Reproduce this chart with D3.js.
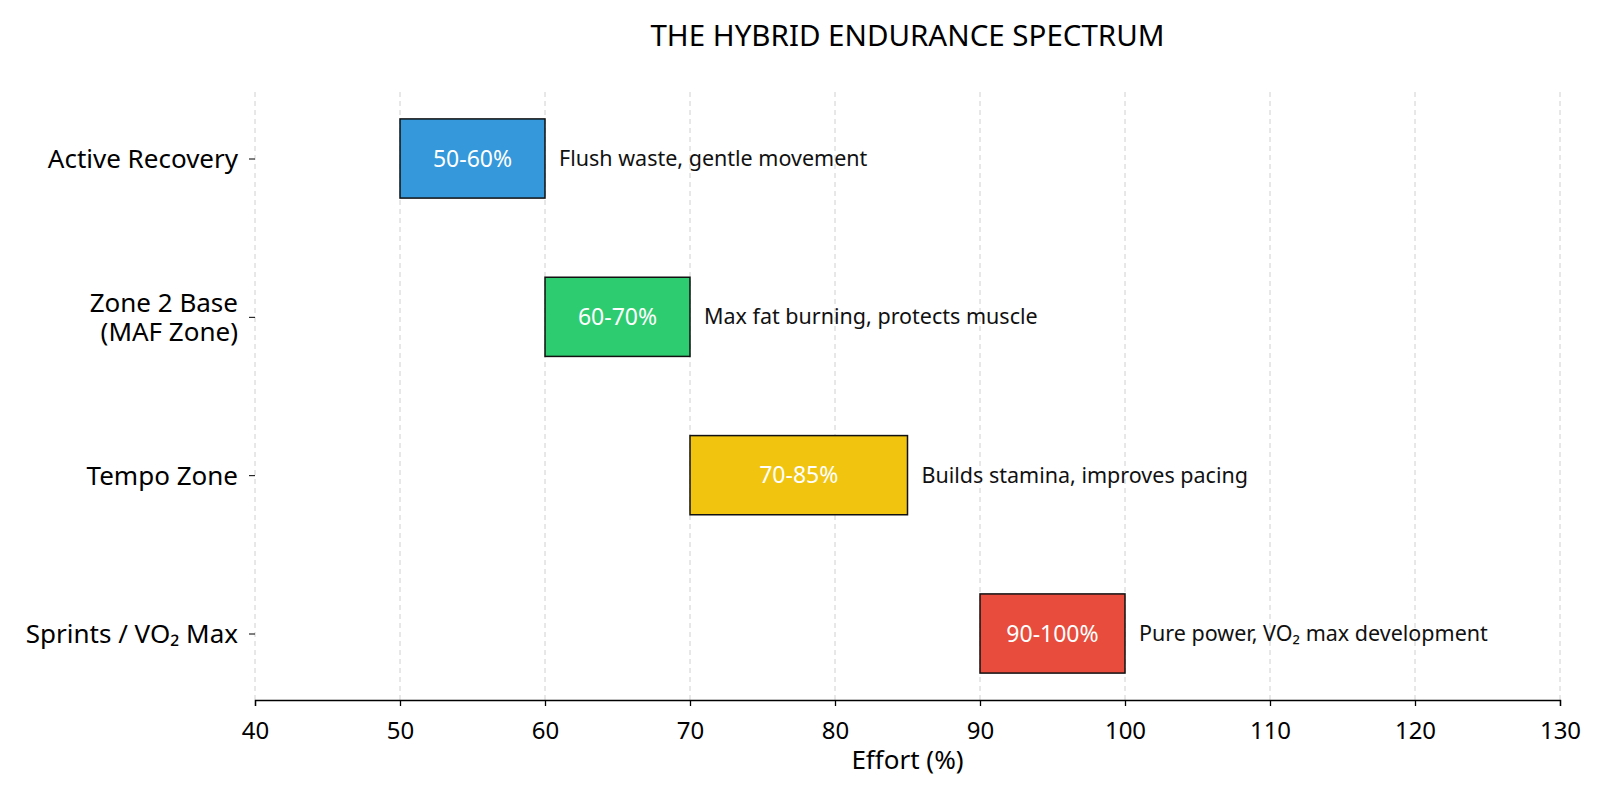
<!DOCTYPE html>
<html>
<head>
<meta charset="utf-8">
<script src="https://cdn.jsdelivr.net/npm/d3@7"></script>
<style>
  body { margin: 0; background: #fff; }
  text { font-family: "Noto Sans", "Open Sans", sans-serif; }
</style>
</head>
<body>
<div id="chart"></div>
<script>
// zones, top to bottom
var zones = ["Active Recovery", "Zone 2 Base\n(MAF Zone)", "Tempo Zone", "Sprints / VO₂ Max"]
var starts = [50, 60, 70, 90]
var ends = [60, 70, 85, 100]
var rangeLabels = ["50-60%", "60-70%", "70-85%", "90-100%"]
var notes = ["Flush waste, gentle movement", "Max fat burning, protects muscle",
             "Builds stamina, improves pacing", "Pure power, VO₂ max development"]
var colors = ["#3498db", "#2ecc71", "#f1c40f", "#e74c3c"]
var xTicks = [40, 50, 60, 70, 80, 90, 100, 110, 120, 130]

var width = 1600
var height = 800
var margin = {top: 92, right: 40, bottom: 100, left: 255}

var svg = d3.select("#chart")
    .append("svg")
    .attr("width", width)
    .attr("height", height)

var plotW = width - margin.left - margin.right
var plotH = height - margin.top - margin.bottom

var g = svg.append("g")
    .attr("transform", "translate(" + margin.left + "," + margin.top + ")")

var xScale = d3.scaleLinear()
    .domain([40, 130])
    .range([0, plotW])

var yScale = d3.scalePoint()
    .domain(zones)
    .range([0, plotH])
    .padding(0.42)

var barH = yScale.step() * 0.5

// dashed grid lines
g.append("g").attr("class", "grid")
  .selectAll("line")
  .data(xTicks)
  .enter()
  .append("line")
    .attr("x1", function(d) { return xScale(d) })
    .attr("x2", function(d) { return xScale(d) })
    .attr("y1", 0)
    .attr("y2", plotH)
    .attr("stroke", "#d0d0d0")
    .attr("stroke-width", 1)
    .attr("stroke-dasharray", "5,4")

// x axis
var xAxis = g.append("g")
    .attr("transform", "translate(0," + plotH + ")")
    .call(d3.axisBottom(xScale).tickValues(xTicks).tickSize(6).tickPadding(16))
xAxis.select(".domain").attr("stroke", "#000").attr("stroke-width", 1.3)
xAxis.selectAll(".tick line").attr("stroke", "#000").attr("stroke-width", 1.3)
xAxis.selectAll("text")
    .style("font-size", "24px")
    .attr("fill", "#000")
    .style("font-family", "'Noto Sans', sans-serif")

// y axis (ticks only, no spine)
var yAxis = g.append("g")
    .call(d3.axisLeft(yScale).tickSize(6).tickPadding(6).tickFormat(""))
yAxis.select(".domain").remove()
yAxis.selectAll(".tick line").attr("stroke", "#000").attr("stroke-width", 1)

var lineGap = 29
yAxis.selectAll(".tick").each(function(d) {
  var lines = d.split("\n")
  var tick = d3.select(this)
  lines.forEach(function(line, i) {
    tick.append("text")
        .attr("x", -17)
        .attr("y", (i - (lines.length - 1) / 2) * lineGap)
        .attr("dy", "0.35em")
        .attr("text-anchor", "end")
        .attr("fill", "#000")
        .style("font-size", "26px")
        .text(line)
  })
})

// bars
var bars = g.append("g").attr("class", "bars")
bars.selectAll("rect")
    .data(zones)
    .enter()
    .append("rect")
    .attr("x", function(d, i) { return xScale(starts[i]) })
    .attr("y", function(d) { return yScale(d) - barH / 2 })
    .attr("width", function(d, i) { return xScale(ends[i]) - xScale(starts[i]) })
    .attr("height", barH)
    .attr("fill", function(d, i) { return colors[i] })
    .attr("stroke", "#111")
    .attr("stroke-width", 1.5)

// range labels in bars
bars.selectAll("text.range")
    .data(zones)
    .enter()
    .append("text")
    .attr("class", "range")
    .attr("x", function(d, i) { return (xScale(starts[i]) + xScale(ends[i])) / 2 })
    .attr("y", function(d) { return yScale(d) })
    .attr("dy", "0.35em")
    .attr("text-anchor", "middle")
    .attr("fill", "#fff")
    .style("font-size", "23px")
    .text(function(d, i) { return rangeLabels[i] })

// notes to the right
bars.selectAll("text.note")
    .data(zones)
    .enter()
    .append("text")
    .attr("class", "note")
    .attr("x", function(d, i) { return xScale(ends[i]) + 14 })
    .attr("y", function(d) { return yScale(d) })
    .attr("dy", "0.35em")
    .attr("fill", "#111")
    .style("font-size", "21.5px")
    .text(function(d, i) { return notes[i] })

// title
svg.append("text")
    .attr("x", margin.left + plotW / 2)
    .attr("y", 36)
    .attr("dy", "0.35em")
    .attr("text-anchor", "middle")
    .attr("fill", "#000")
    .style("font-size", "29.5px")
    .text("THE HYBRID ENDURANCE SPECTRUM")

// x label
svg.append("text")
    .attr("x", margin.left + plotW / 2)
    .attr("y", 760)
    .attr("dy", "0.35em")
    .attr("text-anchor", "middle")
    .attr("fill", "#000")
    .style("font-size", "26px")
    .text("Effort (%)")
</script>
</body>
</html>
